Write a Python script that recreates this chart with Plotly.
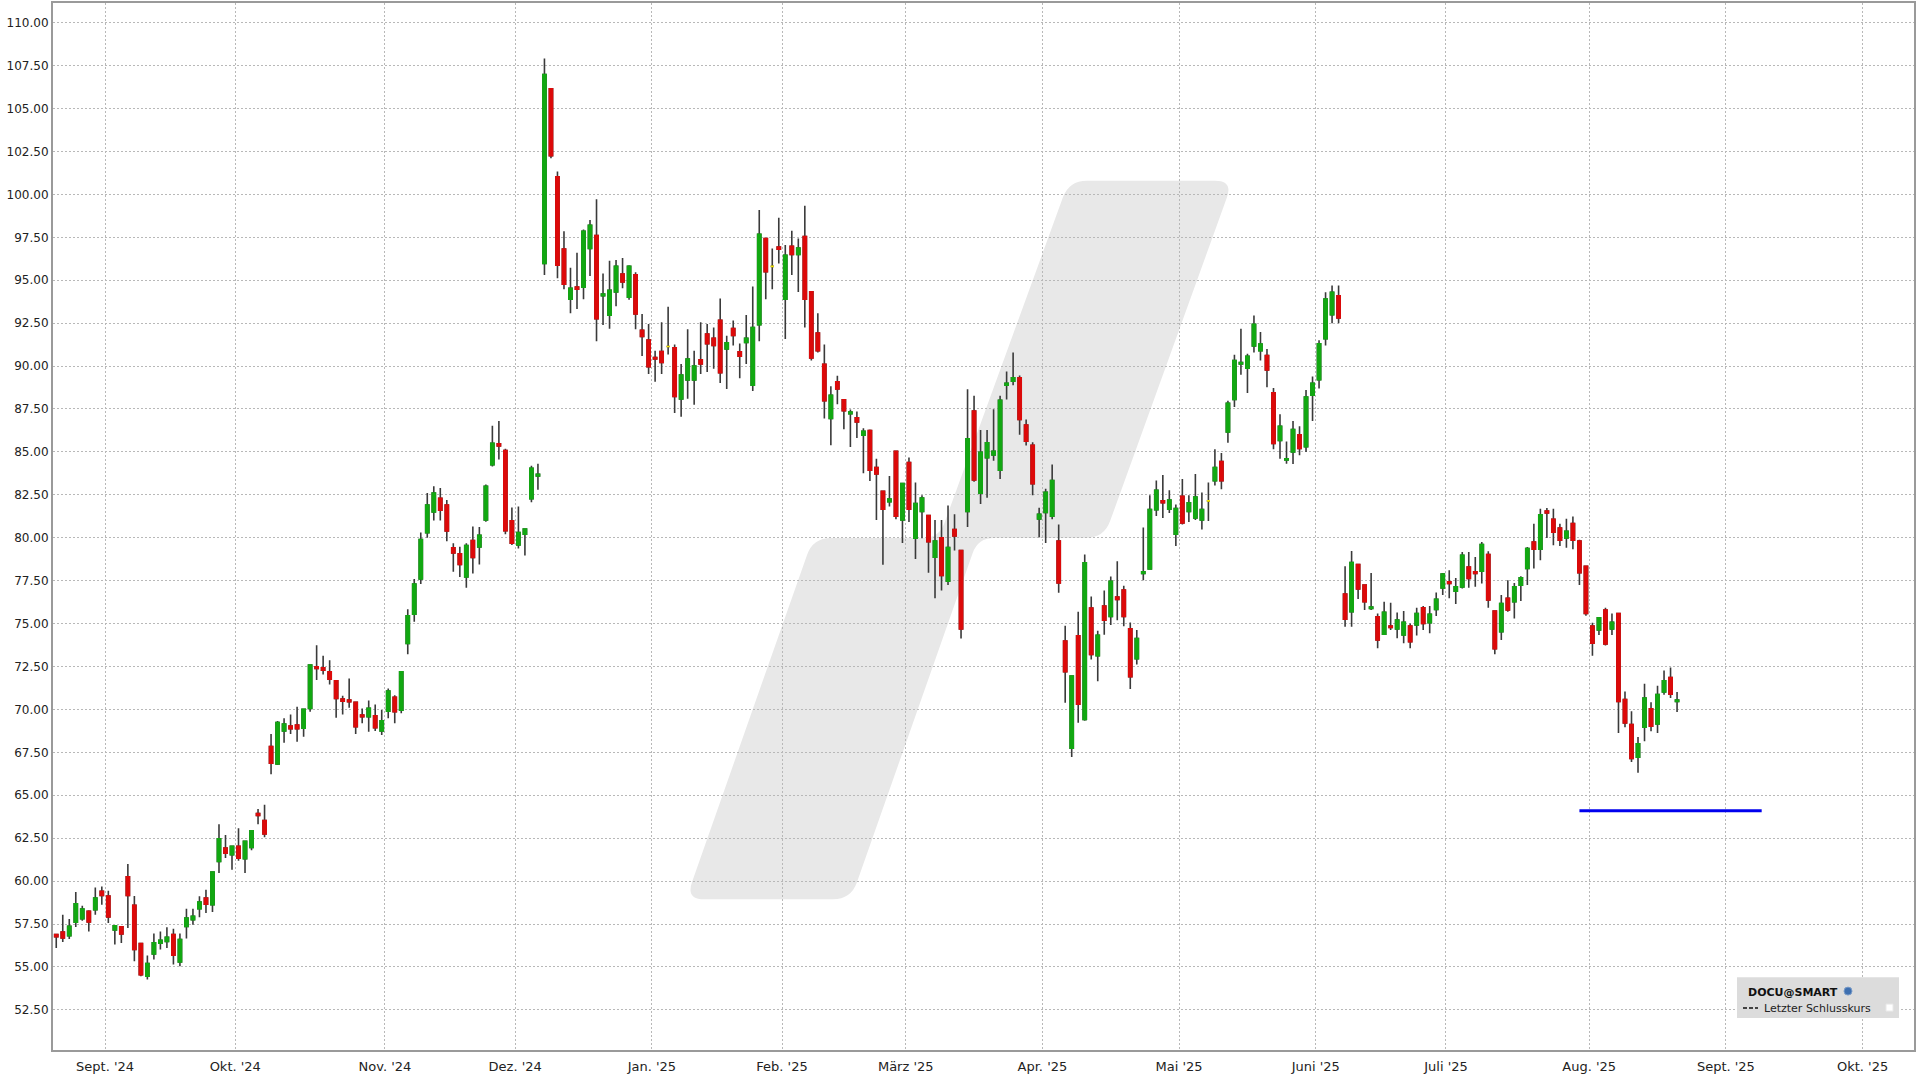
import math
import pandas as pd
import plotly.graph_objects as go

# ---------------- data ----------------
FIRST_DAY = "2024-08-21"
HOLIDAYS = ["2024-09-02", "2024-11-28", "2024-12-25", "2025-01-01", "2025-01-09",
            "2025-01-20", "2025-02-17", "2025-04-18", "2025-05-26", "2025-06-19",
            "2025-07-04", "2025-09-01"]

MONTH_STARTS = ["2024-09-01", "2024-10-01", "2024-11-01", "2024-12-01", "2025-01-01",
                "2025-02-01", "2025-03-01", "2025-04-01", "2025-05-01", "2025-06-01",
                "2025-07-01", "2025-08-01", "2025-09-01", "2025-10-01"]
MONTH_LABELS = ["Sept. '24", "Okt. '24", "Nov. '24", "Dez. '24", "Jan. '25", "Feb. '25",
                "März '25", "Apr. '25", "Mai '25", "Juni '25", "Juli '25", "Aug. '25",
                "Sept. '25", "Okt. '25"]

Y_TICKS = [52.5, 55.0, 57.5, 60.0, 62.5, 65.0, 67.5, 70.0, 72.5, 75.0, 77.5, 80.0,
           82.5, 85.0, 87.5, 90.0, 92.5, 95.0, 97.5, 100.0, 102.5, 105.0, 107.5, 110.0]

OPEN = [56.88, 57.03, 56.82, 57.60, 57.81, 58.24, 58.33, 59.40, 59.13, 57.15,
        57.34, 60.25, 58.59, 56.36, 54.46, 55.76, 56.38, 56.49, 56.88, 55.29,
        57.36, 57.75, 58.39, 59.01, 58.62, 61.14, 61.92, 61.53, 62.02, 61.30,
        61.96, 63.93, 63.53, 67.83, 66.82, 68.74, 69.03, 69.09, 68.90, 70.06,
        72.48, 72.42, 72.19, 71.67, 70.60, 70.54, 70.41, 69.67, 69.57, 69.63,
        68.74, 69.90, 70.70, 69.96, 73.84, 75.54, 77.60, 80.30, 81.50, 82.30,
        81.90, 79.41, 79.06, 77.71, 79.83, 79.47, 81.03, 84.25, 85.47, 85.08,
        80.99, 79.58, 80.20, 82.28, 83.60, 95.98, 106.15, 101.02, 96.81, 93.90,
        94.60, 94.60, 96.85, 97.60, 94.10, 92.97, 94.32, 95.36, 94.01, 95.31,
        92.08, 91.51, 90.50, 90.85, 91.14, 91.06, 88.09, 89.19, 89.19, 90.37,
        91.87, 91.62, 92.66, 91.00, 92.18, 90.83, 91.37, 88.88, 92.41, 97.43,
        95.81, 96.93, 93.90, 96.97, 96.50, 97.54, 94.32, 91.93, 90.10, 86.95,
        89.09, 88.03, 87.22, 86.99, 85.98, 86.25, 84.09, 82.71, 82.10, 85.04,
        81.04, 84.38, 79.97, 81.53, 81.30, 78.87, 79.99, 77.47, 80.48, 79.25,
        81.53, 87.38, 82.59, 84.67, 84.82, 83.93, 88.88, 89.12, 89.32, 86.56,
        85.38, 81.10, 81.48, 81.26, 79.81, 73.98, 67.74, 74.29, 69.41, 75.91,
        73.13, 76.02, 75.42, 76.54, 76.96, 74.69, 72.95, 77.92, 78.18, 81.64,
        82.15, 81.66, 80.21, 82.42, 81.53, 81.15, 81.04, 82.15, 83.33, 84.44,
        86.16, 88.05, 90.12, 89.88, 91.17, 90.90, 90.61, 88.45, 85.67, 84.53,
        85.00, 86.00, 85.30, 88.30, 89.20, 91.60, 93.00, 94.10, 76.72, 75.69,
        78.44, 77.24, 75.88, 75.40, 74.38, 74.86, 74.69, 74.34, 74.86, 74.92,
        75.92, 75.05, 75.83, 77.08, 77.43, 76.89, 77.14, 78.30, 78.01, 78.05,
        79.02, 75.73, 74.53, 76.47, 76.27, 77.24, 78.21, 79.75, 79.33, 81.55,
        81.07, 80.57, 79.99, 80.82, 79.81, 78.34, 74.86, 74.63, 75.79, 74.69,
        75.59, 70.57, 69.12, 67.22, 68.96, 70.04, 69.15, 71.01, 71.86, 70.47]

HIGH = [56.88, 58.04, 57.79, 59.36, 58.57, 58.30, 59.63, 59.69, 59.44, 57.40,
        57.36, 60.99, 59.13, 56.40, 55.66, 56.94, 57.07, 57.31, 57.23, 56.94,
        58.39, 58.39, 59.11, 59.50, 60.55, 63.31, 62.69, 62.05, 63.08, 62.33,
        62.95, 64.20, 64.44, 68.57, 69.32, 69.48, 69.71, 70.16, 70.00, 72.60,
        73.74, 73.12, 72.87, 71.67, 70.80, 71.80, 70.41, 70.06, 70.52, 70.29,
        69.96, 71.22, 70.83, 72.23, 75.83, 77.60, 80.30, 82.60, 83.00, 82.90,
        82.20, 79.68, 79.47, 79.68, 80.66, 80.62, 83.10, 86.53, 86.80, 85.18,
        81.76, 81.82, 80.51, 84.19, 84.31, 107.92, 106.20, 101.33, 97.85, 95.73,
        96.60, 97.95, 98.51, 99.72, 95.40, 96.14, 96.18, 96.29, 95.87, 95.46,
        93.03, 92.45, 90.89, 92.55, 93.45, 91.25, 90.12, 92.14, 90.89, 92.55,
        92.45, 92.24, 93.94, 91.76, 92.66, 91.31, 92.97, 94.63, 99.09, 97.45,
        96.85, 98.64, 97.06, 97.89, 97.43, 99.34, 94.35, 93.07, 91.25, 88.82,
        89.44, 88.05, 87.47, 87.36, 86.38, 86.30, 84.60, 82.71, 83.60, 85.04,
        83.15, 84.67, 83.22, 82.48, 81.30, 81.04, 81.04, 81.88, 81.37, 79.25,
        88.65, 88.27, 86.27, 86.27, 87.49, 88.27, 89.68, 90.79, 89.45, 86.89,
        85.56, 81.75, 82.86, 84.27, 80.77, 74.87, 71.95, 75.69, 79.03, 76.58,
        74.58, 76.92, 77.74, 78.63, 77.20, 75.07, 74.62, 80.59, 82.48, 83.33,
        83.66, 82.77, 81.93, 83.42, 82.48, 83.71, 82.64, 83.22, 85.16, 84.93,
        87.98, 90.66, 92.17, 90.72, 92.95, 91.99, 90.99, 88.72, 87.20, 85.60,
        86.80, 86.50, 88.60, 89.40, 91.50, 94.30, 94.70, 94.70, 78.34, 79.23,
        78.44, 77.24, 77.95, 75.59, 76.27, 76.21, 75.65, 75.73, 75.01, 75.92,
        76.02, 76.02, 76.81, 77.95, 78.11, 77.66, 79.17, 79.17, 78.88, 79.75,
        79.21, 75.73, 76.66, 77.53, 77.37, 77.76, 79.46, 80.82, 81.69, 81.73,
        81.69, 80.82, 81.11, 81.24, 79.89, 78.34, 75.05, 75.34, 75.92, 75.59,
        75.59, 71.05, 69.89, 68.40, 71.49, 70.41, 71.38, 72.27, 72.44, 71.01]

LOW = [56.10, 56.45, 56.63, 57.33, 57.69, 57.07, 58.04, 58.62, 57.56, 56.30,
       56.40, 57.27, 55.33, 54.46, 54.26, 55.43, 56.01, 56.10, 55.14, 55.04,
       56.65, 57.46, 57.89, 58.14, 58.20, 60.47, 61.34, 60.66, 61.18, 60.47,
       61.80, 63.31, 62.55, 66.22, 66.76, 68.06, 68.57, 68.12, 68.41, 69.86,
       71.71, 72.03, 71.45, 69.52, 69.71, 70.10, 68.57, 69.19, 68.70, 68.74,
       68.51, 69.48, 69.19, 69.77, 73.22, 75.10, 77.30, 80.00, 81.00, 81.00,
       79.80, 78.02, 77.71, 77.09, 77.92, 78.44, 80.93, 84.15, 84.56, 80.20,
       79.58, 79.37, 78.96, 82.07, 82.80, 95.31, 102.10, 95.11, 94.48, 93.07,
       93.32, 93.90, 95.25, 91.45, 92.40, 92.18, 93.49, 94.53, 93.86, 92.14,
       90.58, 89.54, 89.09, 89.54, 90.68, 87.26, 87.05, 88.09, 87.74, 89.54,
       89.65, 89.85, 89.02, 88.67, 91.20, 89.29, 90.12, 88.55, 91.45, 93.90,
       94.48, 95.98, 91.58, 95.31, 94.32, 92.24, 90.33, 90.79, 86.95, 85.39,
       87.78, 86.32, 85.29, 85.81, 83.75, 83.31, 81.04, 78.43, 81.82, 81.08,
       79.70, 80.92, 78.76, 79.97, 77.96, 76.47, 76.92, 77.25, 79.25, 74.13,
       80.63, 83.26, 81.97, 82.33, 84.49, 83.42, 88.05, 88.88, 86.00, 85.38,
       82.48, 80.03, 79.70, 81.08, 76.80, 70.39, 67.23, 69.23, 69.34, 72.91,
       71.64, 74.35, 74.91, 75.20, 74.84, 71.19, 72.62, 77.52, 78.14, 81.26,
       81.15, 81.44, 79.52, 80.77, 80.92, 81.04, 80.48, 80.97, 83.04, 82.82,
       85.53, 87.61, 89.50, 88.43, 90.79, 90.32, 88.76, 85.16, 84.60, 84.31,
       84.30, 84.80, 85.00, 86.80, 88.70, 91.20, 92.50, 92.50, 74.82, 74.82,
       76.43, 75.79, 75.79, 73.56, 74.34, 74.63, 74.14, 73.85, 73.56, 74.30,
       74.63, 74.43, 75.44, 76.66, 76.47, 76.14, 77.05, 77.08, 77.14, 77.34,
       75.92, 73.22, 74.05, 75.69, 75.30, 76.31, 77.24, 78.21, 78.69, 79.99,
       79.56, 79.52, 79.41, 79.33, 77.24, 75.46, 73.12, 74.34, 73.72, 74.34,
       68.63, 68.96, 66.93, 66.31, 68.15, 68.73, 68.63, 70.86, 70.66, 69.85]

CLOSE = [56.76, 56.69, 57.36, 58.68, 58.37, 57.62, 59.01, 59.17, 57.91, 57.40,
         56.92, 59.17, 56.01, 54.55, 55.19, 56.40, 56.55, 56.73, 55.68, 56.59,
         57.85, 57.95, 58.78, 58.66, 60.52, 62.46, 61.63, 62.02, 61.34, 62.31,
         62.93, 63.82, 62.75, 66.86, 69.24, 69.15, 68.88, 68.88, 70.00, 72.58,
         72.38, 72.29, 71.76, 70.64, 70.48, 70.45, 68.99, 69.57, 70.06, 68.93,
         69.34, 71.07, 69.86, 72.19, 75.45, 77.30, 79.90, 81.90, 82.60, 81.60,
         80.40, 79.12, 78.44, 79.54, 78.85, 80.14, 83.00, 85.50, 85.35, 80.41,
         79.68, 80.30, 80.51, 84.04, 83.70, 106.98, 102.25, 95.87, 94.77, 94.53,
         94.48, 97.85, 98.20, 92.76, 94.20, 94.42, 95.81, 94.90, 95.81, 93.03,
         91.72, 89.96, 90.42, 90.21, 91.14, 88.23, 89.48, 90.41, 90.00, 90.12,
         91.31, 91.20, 89.61, 91.35, 91.78, 90.58, 91.62, 92.24, 97.68, 95.50,
         95.81, 96.81, 96.46, 96.50, 96.87, 93.90, 90.48, 90.89, 87.99, 88.30,
         88.67, 87.40, 87.32, 86.74, 86.20, 83.93, 83.71, 81.66, 82.26, 81.26,
         83.15, 81.66, 81.99, 82.31, 79.77, 79.81, 77.81, 79.43, 80.10, 74.69,
         85.76, 83.37, 84.98, 85.53, 85.04, 88.01, 88.99, 89.32, 86.89, 85.62,
         83.15, 81.37, 82.64, 83.33, 77.36, 72.19, 71.95, 70.30, 78.54, 73.20,
         74.31, 75.20, 77.47, 76.40, 75.42, 71.90, 74.13, 78.01, 81.64, 82.77,
         82.04, 82.19, 81.70, 80.86, 82.04, 82.37, 81.64, 82.15, 84.09, 83.33,
         87.83, 90.32, 90.21, 90.57, 92.44, 91.28, 89.77, 85.49, 86.49, 84.60,
         86.30, 85.20, 88.20, 89.00, 91.30, 93.90, 94.30, 92.80, 75.25, 78.55,
         77.01, 76.27, 75.96, 74.05, 75.65, 74.78, 75.21, 75.07, 73.95, 75.59,
         75.01, 75.54, 76.41, 77.88, 77.34, 77.14, 78.98, 77.63, 77.92, 79.60,
         76.37, 73.53, 76.17, 75.79, 77.14, 77.66, 79.37, 79.33, 81.34, 81.44,
         80.33, 79.85, 80.37, 79.85, 77.97, 75.59, 73.85, 75.34, 73.82, 75.07,
         70.47, 69.21, 67.14, 67.99, 70.66, 69.02, 70.86, 71.67, 70.89, 70.55]

LEVEL_VALUE = 64.1
LEVEL_FROM, LEVEL_TO = "2025-07-30", "2025-09-09"

LEGEND_TITLE = "DOCU@SMART"
LEGEND_ITEM = "Letzter Schlusskurs"

# ---------------- calendar / positions ----------------
cal = pd.bdate_range(FIRST_DAY, "2025-10-31")
cal = cal[~cal.isin(pd.to_datetime(HOLIDAYS))]
N = len(CLOSE)
xs = list(range(N))
dates = [d.strftime("%d.%m.%Y") for d in cal[:N]]

def day_pos(s):
    return int(cal.searchsorted(pd.Timestamp(s)))

tickvals = [day_pos(m) - 0.5 for m in MONTH_STARTS]

# ---------------- styling ----------------
W, H = 1920, 1080
ML, MR, MT, MB = 53, 6, 1, 30
PW, PH = W - ML - MR, H - MT - MB
GREEN = "#12a812"
RED = "#dc0a0a"
YELLOW = "#f5e600"
WICK = "#3a3a3a"
FONT = "DejaVu Sans"

def px2paper(px, py):
    return (px - ML) / PW, (H - MB - py) / PH

fig = go.Figure()

# wicks
fig.add_trace(go.Candlestick(
    x=xs, open=OPEN, high=HIGH, low=LOW, close=CLOSE,
    increasing=dict(line=dict(color=WICK, width=1.6), fillcolor=WICK),
    decreasing=dict(line=dict(color=WICK, width=1.6), fillcolor=WICK),
    whiskerwidth=0, hoverinfo="skip", showlegend=False, name="wick"))

# bodies
groups = {"up": ([], GREEN), "down": ([], RED), "flat": ([], YELLOW)}
for i in range(N):
    if CLOSE[i] > OPEN[i]:
        groups["up"][0].append(i)
    elif CLOSE[i] < OPEN[i]:
        groups["down"][0].append(i)
    else:
        groups["flat"][0].append(i)
for name, (idx, col) in groups.items():
    if not idx:
        continue
    fig.add_trace(go.Candlestick(
        x=[xs[i] for i in idx],
        open=[OPEN[i] for i in idx],
        close=[CLOSE[i] for i in idx],
        high=[max(OPEN[i], CLOSE[i]) for i in idx],
        low=[min(OPEN[i], CLOSE[i]) for i in idx],
        text=[dates[i] for i in idx],
        increasing=dict(line=dict(color=col, width=1.6), fillcolor=col),
        decreasing=dict(line=dict(color=col, width=1.6), fillcolor=col),
        whiskerwidth=0, showlegend=False, name=name))

# horizontal level line
fig.add_trace(go.Scatter(
    x=[day_pos(LEVEL_FROM), day_pos(LEVEL_TO)], y=[LEVEL_VALUE, LEVEL_VALUE],
    mode="lines", line=dict(color="#0000ee", width=3), showlegend=False,
    hoverinfo="skip"))

# watermark (rounded polygon in pixel space)
wm_pts = [(1069, 179), (1233, 179), (1104, 537), (978, 537), (851, 899),
          (686, 899), (813, 537), (939, 537)]
radii = [18, 18, 18, 16, 18, 18, 18, 16]

def rounded_path(pts, rads):
    n = len(pts)
    segs = []
    for k in range(n):
        p = pts[k]
        a = pts[k - 1]
        b = pts[(k + 1) % n]
        r = rads[k]
        da = math.hypot(a[0] - p[0], a[1] - p[1])
        db = math.hypot(b[0] - p[0], b[1] - p[1])
        pa = (p[0] + (a[0] - p[0]) * r / da, p[1] + (a[1] - p[1]) * r / da)
        pb = (p[0] + (b[0] - p[0]) * r / db, p[1] + (b[1] - p[1]) * r / db)
        segs.append((pa, p, pb))
    def f(pt):
        x, y = px2paper(*pt)
        return f"{x:.5f},{y:.5f}"
    path = f"M{f(segs[0][0])} Q{f(segs[0][1])} {f(segs[0][2])}"
    for pa, p, pb in segs[1:]:
        path += f" L{f(pa)} Q{f(p)} {f(pb)}"
    path += " Z"
    return path

shapes = [dict(type="path", path=rounded_path(wm_pts, radii), xref="paper", yref="paper",
               fillcolor="#e8e8e8", line=dict(width=0), layer="below")]

# legend box
x0, y0 = px2paper(1737, 977)
x1, y1 = px2paper(1899, 1018)
shapes.append(dict(type="rect", xref="paper", yref="paper", x0=x0, y0=y1, x1=x1, y1=y0,
                   fillcolor="#dcdcdc", line=dict(width=0), layer="above"))
lx0, ly = px2paper(1743, 1008)
lx1, _ = px2paper(1758, 1008)
shapes.append(dict(type="line", xref="paper", yref="paper", x0=lx0, x1=lx1, y0=ly, y1=ly,
                   line=dict(color="#111111", width=1.5, dash="4px,2px"), layer="above"))
gx0, gy0 = px2paper(1844, 987)
gx1, gy1 = px2paper(1852, 995)
shapes.append(dict(type="circle", xref="paper", yref="paper", x0=gx0, x1=gx1, y0=gy1, y1=gy0,
                   fillcolor="#3d6fb0", line=dict(color="#7a9cc8", width=1), layer="above"))
sx0, sy0 = px2paper(1886, 1004)
sx1, sy1 = px2paper(1893, 1011)
shapes.append(dict(type="rect", xref="paper", yref="paper", x0=sx0, x1=sx1, y0=sy1, y1=sy0,
                   fillcolor="#ffffff", line=dict(color="#e8e8e8", width=1), layer="above"))

ax, ay = px2paper(1746, 992)
bx, by = px2paper(1762, 1008)
annotations = [
    dict(text=f"<b>{LEGEND_TITLE}</b>", x=ax, y=ay, xref="paper", yref="paper",
         xanchor="left", yanchor="middle", showarrow=False,
         font=dict(family=FONT, size=11, color="#111111")),
    dict(text=LEGEND_ITEM, x=bx, y=by, xref="paper", yref="paper",
         xanchor="left", yanchor="middle", showarrow=False,
         font=dict(family=FONT, size=11, color="#222222")),
]

fig.update_layout(
    width=W, height=H,
    margin=dict(l=ML, r=MR, t=MT, b=MB, pad=0),
    paper_bgcolor="white", plot_bgcolor="white",
    font=dict(family=FONT, size=12, color="#222222"),
    shapes=shapes, annotations=annotations,
    showlegend=False, hovermode="closest",
    xaxis=dict(
        range=[-0.5, 285.4], rangeslider=dict(visible=False),
        tickmode="array", tickvals=tickvals, ticktext=MONTH_LABELS,
        showgrid=True, gridcolor="#b8b8b8", gridwidth=1, griddash="2px,2px",
        showline=True, linecolor="#9a9a9a", linewidth=2, mirror=True,
        ticks="", zeroline=False, ticklabelstandoff=3,
        tickfont=dict(family=FONT, size=13, color="#222222"),
    ),
    yaxis=dict(
        range=[50.16, 111.15], tickmode="array", tickvals=Y_TICKS,
        ticktext=[f"{v:.2f}" for v in Y_TICKS],
        showgrid=True, gridcolor="#b8b8b8", gridwidth=1, griddash="2px,2px",
        showline=True, linecolor="#9a9a9a", linewidth=2, mirror=True,
        ticks="", zeroline=False, tickfont=dict(family=FONT, size=12, color="#222222"),
    ),
)

fig.write_html("out.html", config={"displayModeBar": False},
               post_script="document.body.style.margin='0';")
